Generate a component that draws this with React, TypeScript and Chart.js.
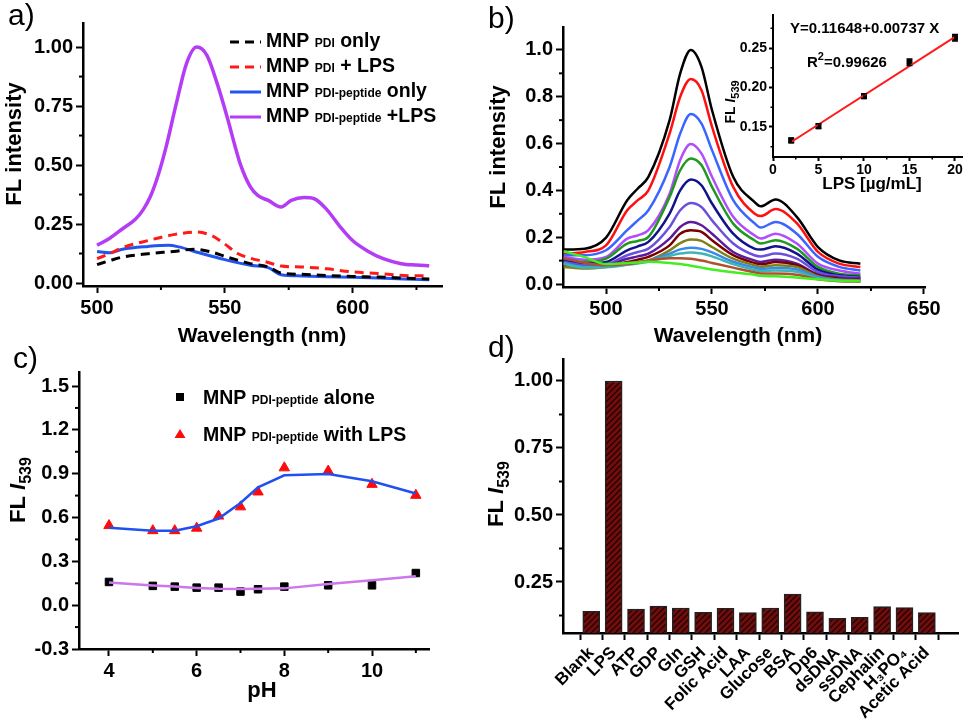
import React, { useEffect, useRef } from "react";
import { Chart, registerables } from "chart.js";
Chart.register(...registerables);

const FONT = '"Liberation Sans", Arial, Helvetica, sans-serif';

// ---------------- Panel a ----------------
const aPurpleWl = [500, 505, 510, 515, 518, 521, 524, 527, 531, 535, 539, 543, 547, 551, 554, 556, 560, 563, 567, 572, 576, 581, 585, 590, 595, 600, 606, 612, 619, 625, 630];
const aPurpleVal = [0.16, 0.19, 0.23, 0.27, 0.31, 0.37, 0.46, 0.576, 0.76, 0.93, 1.0, 0.965, 0.846, 0.7, 0.58, 0.506, 0.407, 0.37, 0.35, 0.322, 0.35, 0.362, 0.357, 0.31, 0.24, 0.18, 0.135, 0.103, 0.082, 0.076, 0.073];
const aRedWl = [500, 505, 510, 520, 530, 539, 545, 550, 555, 560, 566, 572, 580, 590, 600, 610, 620, 630];
const aRedVal = [0.103, 0.125, 0.15, 0.18, 0.205, 0.216, 0.2, 0.165, 0.125, 0.105, 0.09, 0.072, 0.068, 0.06, 0.047, 0.04, 0.032, 0.03];
const aBlackWl = [500, 505, 510, 520, 530, 538, 545, 550, 555, 560, 567, 572, 580, 590, 600, 610, 620, 630];
const aBlackVal = [0.078, 0.095, 0.11, 0.124, 0.134, 0.143, 0.131, 0.113, 0.097, 0.082, 0.068, 0.042, 0.037, 0.032, 0.028, 0.025, 0.021, 0.017];
const aBlueWl = [500, 505, 510, 520, 528, 532, 540, 550, 560, 567, 572, 580, 590, 600, 610, 620, 630];
const aBlueVal = [0.134, 0.128, 0.143, 0.155, 0.16, 0.153, 0.128, 0.099, 0.075, 0.065, 0.035, 0.03, 0.027, 0.024, 0.021, 0.017, 0.014];
const aXTicks = [500, 550, 600];
const aXMinor = [525, 575, 625];
const aYTicks = [0, 0.25, 0.5, 0.75, 1.0];
const aYMinor = [0.125, 0.375, 0.625, 0.875];

// ---------------- Panel b ----------------
const bWl = [480, 490, 500, 510, 515, 520, 530, 535, 540, 545, 550, 560, 570, 573, 580, 590, 600, 610, 620];
const bBlack = [0.147, 0.151, 0.198, 0.358, 0.408, 0.458, 0.7, 0.9, 1.0, 0.929, 0.743, 0.458, 0.351, 0.332, 0.361, 0.287, 0.158, 0.101, 0.087];
const bRed = [0.13, 0.137, 0.165, 0.315, 0.358, 0.4, 0.643, 0.8, 0.876, 0.829, 0.672, 0.415, 0.301, 0.29, 0.32, 0.26, 0.137, 0.087, 0.073];
const bBlue = [0.123, 0.123, 0.144, 0.23, 0.272, 0.315, 0.5, 0.643, 0.726, 0.686, 0.572, 0.358, 0.26, 0.241, 0.265, 0.215, 0.116, 0.073, 0.058];
const bViolet = [0.116, 0.104, 0.116, 0.194, 0.208, 0.23, 0.386, 0.53, 0.598, 0.558, 0.458, 0.287, 0.208, 0.194, 0.215, 0.173, 0.087, 0.058, 0.044];
const bGreen = [0.108, 0.094, 0.108, 0.173, 0.184, 0.201, 0.372, 0.486, 0.536, 0.508, 0.415, 0.258, 0.187, 0.173, 0.187, 0.151, 0.073, 0.044, 0.037];
const bNavy = [0.1, 0.087, 0.094, 0.144, 0.161, 0.18, 0.301, 0.4, 0.446, 0.422, 0.344, 0.215, 0.151, 0.147, 0.161, 0.13, 0.061, 0.037, 0.03];
const bIndigo = [0.094, 0.08, 0.084, 0.123, 0.137, 0.151, 0.244, 0.315, 0.346, 0.329, 0.272, 0.173, 0.123, 0.118, 0.13, 0.108, 0.051, 0.033, 0.027];
const bPurple = [0.087, 0.076, 0.08, 0.108, 0.118, 0.13, 0.194, 0.244, 0.265, 0.251, 0.215, 0.137, 0.101, 0.094, 0.104, 0.087, 0.041, 0.027, 0.023];
const bMaroon = [0.08, 0.073, 0.076, 0.094, 0.104, 0.116, 0.165, 0.215, 0.23, 0.223, 0.187, 0.123, 0.09, 0.084, 0.094, 0.08, 0.037, 0.023, 0.019];
const bOlive = [0.073, 0.066, 0.073, 0.087, 0.094, 0.101, 0.144, 0.175, 0.19, 0.184, 0.158, 0.108, 0.08, 0.073, 0.08, 0.073, 0.033, 0.019, 0.016];
const bSky = [0.09, 0.075, 0.075, 0.085, 0.092, 0.1, 0.13, 0.148, 0.155, 0.15, 0.135, 0.095, 0.07, 0.065, 0.068, 0.062, 0.03, 0.017, 0.014];
const bTeal = [0.085, 0.07, 0.072, 0.082, 0.088, 0.095, 0.12, 0.13, 0.135, 0.13, 0.118, 0.085, 0.06, 0.055, 0.058, 0.052, 0.025, 0.015, 0.012];
const bBrown = [0.11, 0.09, 0.08, 0.085, 0.092, 0.1, 0.11, 0.11, 0.108, 0.1, 0.09, 0.07, 0.05, 0.045, 0.045, 0.04, 0.02, 0.012, 0.01];
const bLime = [0.14, 0.115, 0.085, 0.09, 0.092, 0.095, 0.09, 0.085, 0.078, 0.07, 0.062, 0.05, 0.04, 0.035, 0.033, 0.028, 0.02, 0.014, 0.012];
const bSeries = [bBlack, bRed, bBlue, bViolet, bGreen, bNavy, bIndigo, bPurple, bMaroon, bOlive, bSky, bTeal, bBrown, bLime];
const bColors = ["#000000", "#ff1010", "#3a66ff", "#b24cff", "#1f9a1f", "#12128c", "#6a50dc", "#5c1a9c", "#7a0000", "#808018", "#3a8ae8", "#3fb4b4", "#b05030", "#44ee22"];
const bXTicks = [500, 550, 600, 650];
const bXMinor = [525, 575, 625];
const bYTicks = [0, 0.2, 0.4, 0.6, 0.8, 1.0];
const bYMinor = [0.1, 0.3, 0.5, 0.7, 0.9];

// ---------------- Inset ----------------
const insetLps = [2, 5, 10, 15, 20];
const insetI539 = [0.133, 0.151, 0.189, 0.232, 0.263];
const insetErr = [0.003, 0.003, 0.003, 0.004, 0.004];
const insetFitX = [2, 20];
const insetFitY = [0.131, 0.264];
const inXTicks = [0, 5, 10, 15, 20];
const inXMinor = [2.5, 7.5, 12.5, 17.5];
const inYTicks = [0.15, 0.2, 0.25];
const inYMinor = [0.125, 0.175, 0.225, 0.275];

// ---------------- Panel c ----------------
const cPh = [4, 5, 5.5, 6, 6.5, 7, 7.4, 8, 9, 10, 11];
const cWithLps = [0.545, 0.51, 0.51, 0.527, 0.61, 0.673, 0.775, 0.94, 0.918, 0.827, 0.752];
const cWithLpsFit = [0.53, 0.51, 0.51, 0.54, 0.593, 0.7, 0.807, 0.889, 0.898, 0.848, 0.764];
const cAlone = [0.159, 0.132, 0.127, 0.12, 0.12, 0.093, 0.109, 0.127, 0.136, 0.136, 0.22];
const cAloneFit = [0.155, 0.135, 0.127, 0.118, 0.112, 0.11, 0.112, 0.115, 0.145, 0.17, 0.198];
const cXTicks = [4, 6, 8, 10];
const cXMinor = [5, 7, 9, 11];
const cYTicks = [-0.3, 0, 0.3, 0.6, 0.9, 1.2, 1.5];
const cYMinor = [-0.15, 0.15, 0.45, 0.75, 1.05, 1.35];

// ---------------- Panel d ----------------
const dLabels = ["Blank", "LPS", "ATP", "GDP", "Gln", "GSH", "Folic Acid", "LAA", "Glucose", "BSA", "Dp6", "dsDNA", "ssDNA", "Cephalin", "H\u2083PO\u2084", "Acetic Acid"];
const dValues = [0.141, 1.0, 0.149, 0.16, 0.153, 0.137, 0.152, 0.136, 0.153, 0.205, 0.139, 0.114, 0.118, 0.158, 0.155, 0.136];
const dYTicks = [0.25, 0.5, 0.75, 1.0];
const dYMinor = [0.125, 0.375, 0.625, 0.875];

type Seg = { t: string; size: number; italic?: boolean; dy?: number };

function rich(ctx: CanvasRenderingContext2D, segs: Seg[], x: number, y: number, align: "left" | "center", rot = 0) {
  ctx.save();
  ctx.translate(x, y);
  if (rot) ctx.rotate(rot);
  ctx.textBaseline = "alphabetic";
  ctx.textAlign = "left";
  ctx.fillStyle = "#000";
  const f = (s: Seg) => `${s.italic ? "italic " : ""}bold ${s.size}px ${FONT}`;
  let w = 0;
  for (const s of segs) {
    ctx.font = f(s);
    w += ctx.measureText(s.t).width;
  }
  let cx = align === "center" ? -w / 2 : 0;
  for (const s of segs) {
    ctx.font = f(s);
    ctx.fillText(s.t, cx, s.dy || 0);
    cx += ctx.measureText(s.t).width;
  }
  ctx.restore();
}

function letter(ctx: CanvasRenderingContext2D, t: string, x: number, y: number) {
  ctx.save();
  ctx.font = `30px ${FONT}`;
  ctx.fillStyle = "#000";
  ctx.textBaseline = "alphabetic";
  ctx.textAlign = "left";
  ctx.fillText(t, x, y);
  ctx.restore();
}

function minor(chart: any, axis: "x" | "y", vals: number[], len = 4, lw = 2) {
  const ctx = chart.ctx as CanvasRenderingContext2D;
  const s = chart.scales[axis];
  const a = chart.chartArea;
  ctx.save();
  ctx.strokeStyle = "#000";
  ctx.lineWidth = lw;
  for (const v of vals) {
    const p = s.getPixelForValue(v);
    ctx.beginPath();
    if (axis === "x") {
      ctx.moveTo(p, a.bottom);
      ctx.lineTo(p, a.bottom + len);
    } else {
      ctx.moveTo(a.left, p);
      ctx.lineTo(a.left - len, p);
    }
    ctx.stroke();
  }
  ctx.restore();
}

function axis(o: {
  min: number; max: number; ticks: number[]; fmt: (v: number) => string; fit: number;
  size?: number; tickLen?: number; border?: number; rot?: number; pad?: number;
}) {
  return {
    type: "linear",
    min: o.min,
    max: o.max,
    border: { display: true, color: "#000", width: o.border ?? 2.5 },
    grid: { display: true, drawOnChartArea: false, drawTicks: true, tickLength: o.tickLen ?? 7, tickWidth: 2, tickColor: "#000", color: "#000" },
    ticks: {
      autoSkip: false,
      color: "#000",
      padding: o.pad ?? 3,
      minRotation: o.rot ?? 0,
      maxRotation: o.rot ?? 0,
      font: { family: FONT, size: o.size ?? 19, weight: "bold" },
      callback: (v: any) => o.fmt(Number(v)),
    },
    afterBuildTicks: (s: any) => {
      s.ticks = o.ticks.map((v) => ({ value: v }));
    },
    afterFit: (s: any) => {
      if (s.isHorizontal()) s.height = o.fit;
      else s.width = o.fit;
    },
  };
}

function base(pad: any) {
  return {
    responsive: false,
    animation: false,
    devicePixelRatio: 1,
    events: [],
    layout: { padding: pad },
    plugins: { legend: { display: false }, tooltip: { enabled: false }, title: { display: false } },
  };
}

const pts = (xs: number[], ys: number[]) => xs.map((x, i) => ({ x, y: ys[i] }));

export default function App() {
  const refA = useRef<HTMLCanvasElement>(null);
  const refB = useRef<HTMLCanvasElement>(null);
  const refI = useRef<HTMLCanvasElement>(null);
  const refC = useRef<HTMLCanvasElement>(null);
  const refD = useRef<HTMLCanvasElement>(null);

  useEffect(() => {
    const charts: Chart[] = [];

    // ---------- A ----------
    const aLegend = [
      { color: "#000000", dash: [9, 6], sub: "PDI", tail: " only" },
      { color: "#ff1a1a", dash: [9, 6], sub: "PDI", tail: " + LPS" },
      { color: "#2255ee", dash: [], sub: "PDI-peptide", tail: " only" },
      { color: "#b43cf5", dash: [], sub: "PDI-peptide", tail: " +LPS" },
    ];
    charts.push(
      new Chart(refA.current!, {
        type: "line",
        data: {
          datasets: [
            { data: pts(aBlackWl, aBlackVal), borderColor: "#000000", borderWidth: 3, borderDash: [9, 6], pointRadius: 0, cubicInterpolationMode: "monotone" },
            { data: pts(aRedWl, aRedVal), borderColor: "#ff1a1a", borderWidth: 3, borderDash: [9, 6], pointRadius: 0, cubicInterpolationMode: "monotone" },
            { data: pts(aBlueWl, aBlueVal), borderColor: "#2255ee", borderWidth: 3, pointRadius: 0, cubicInterpolationMode: "monotone" },
            { data: pts(aPurpleWl, aPurpleVal), borderColor: "#b43cf5", borderWidth: 3.5, pointRadius: 0, cubicInterpolationMode: "monotone" },
          ] as any,
        },
        options: {
          ...base({ left: 0, top: 23, right: 38, bottom: 0 }),
          scales: {
            x: axis({ min: 494.5, max: 635, ticks: aXTicks, fmt: (v) => String(v), fit: 64, size: 20 }),
            y: axis({ min: -0.0127, max: 1.102, ticks: aYTicks, fmt: (v) => v.toFixed(2), fit: 83, size: 20 }),
          },
        } as any,
        plugins: [
          {
            id: "decoA",
            afterDraw(chart: any) {
              const ctx = chart.ctx;
              minor(chart, "x", aXMinor);
              minor(chart, "y", aYMinor);
              letter(ctx, "a)", 8, 25);
              rich(ctx, [{ t: "FL intensity", size: 22 }], 21, 144, "center", -Math.PI / 2);
              rich(ctx, [{ t: "Wavelength (nm)", size: 21 }], 262, 342, "center");
              aLegend.forEach((r, i) => {
                const ly = 42 + 25 * i;
                ctx.save();
                ctx.strokeStyle = r.color;
                ctx.lineWidth = 3;
                ctx.setLineDash(r.dash);
                ctx.beginPath();
                ctx.moveTo(230, ly);
                ctx.lineTo(261, ly);
                ctx.stroke();
                ctx.restore();
                rich(ctx, [{ t: "MNP ", size: 19.5 }, { t: r.sub, size: 12 }, { t: r.tail, size: 19.5 }], 266, 47 + 25 * i, "left");
              });
            },
          },
        ],
      })
    );

    // ---------- B ----------
    charts.push(
      new Chart(refB.current!, {
        type: "line",
        data: {
          datasets: bSeries
            .map((s, i) => ({ data: pts(bWl, s), borderColor: bColors[i], borderWidth: 2.5, pointRadius: 0, cubicInterpolationMode: "monotone" }))
            .reverse() as any,
        },
        options: {
          ...base({ left: 0, top: 27, right: 44, bottom: 0 }),
          scales: {
            x: axis({ min: 479.7, max: 650.5, ticks: bXTicks, fmt: (v) => String(v), fit: 63, size: 20 }),
            y: axis({ min: -0.0128, max: 1.098, ticks: bYTicks, fmt: (v) => v.toFixed(1), fit: 83, size: 20 }),
          },
        } as any,
        plugins: [
          {
            id: "decoB",
            afterDraw(chart: any) {
              const ctx = chart.ctx;
              minor(chart, "x", bXMinor);
              minor(chart, "y", bYMinor);
              letter(ctx, "b)", 8, 28);
              rich(ctx, [{ t: "FL intensity", size: 22 }], 25, 147, "center", -Math.PI / 2);
              rich(ctx, [{ t: "Wavelength (nm)", size: 21 }], 258, 342, "center");
            },
          },
        ],
      })
    );

    // ---------- Inset ----------
    charts.push(
      new Chart(refI.current!, {
        type: "scatter",
        data: {
          datasets: [
            { type: "line", data: pts(insetFitX, insetFitY), borderColor: "#ff1a1a", borderWidth: 2, pointRadius: 0 },
            { data: pts(insetLps, insetI539), backgroundColor: "#000", borderColor: "#000", pointStyle: "rect", pointRadius: 3.5 },
          ] as any,
        },
        options: {
          ...base({ left: 0, top: 15, right: 7, bottom: 0 }),
          scales: {
            x: axis({ min: 0, max: 20.77, ticks: inXTicks, fmt: (v) => String(v), fit: 43, size: 14, tickLen: 4, border: 2, pad: 1 }),
            y: axis({ min: 0.112, max: 0.2918, ticks: inYTicks, fmt: (v) => v.toFixed(2), fit: 73, size: 14, tickLen: 4, border: 2, pad: 2 }),
          },
        } as any,
        plugins: [
          {
            id: "decoI",
            afterDatasetsDraw(chart: any) {
              const ctx = chart.ctx as CanvasRenderingContext2D;
              const xs = chart.scales.x;
              const ys = chart.scales.y;
              ctx.save();
              ctx.strokeStyle = "#000";
              ctx.lineWidth = 1.5;
              insetLps.forEach((xv, i) => {
                const px = xs.getPixelForValue(xv);
                const y1 = ys.getPixelForValue(insetI539[i] - insetErr[i]);
                const y2 = ys.getPixelForValue(insetI539[i] + insetErr[i]);
                ctx.beginPath();
                ctx.moveTo(px, y1);
                ctx.lineTo(px, y2);
                ctx.moveTo(px - 3, y1);
                ctx.lineTo(px + 3, y1);
                ctx.moveTo(px - 3, y2);
                ctx.lineTo(px + 3, y2);
                ctx.stroke();
              });
              ctx.restore();
            },
            afterDraw(chart: any) {
              const ctx = chart.ctx;
              minor(chart, "x", inXMinor, 2.5, 1.5);
              minor(chart, "y", inYMinor, 2.5, 1.5);
              rich(ctx, [{ t: "Y=0.11648+0.00737 X", size: 15 }], 90, 33, "left");
              rich(ctx, [{ t: "R", size: 15 }, { t: "2", size: 11, dy: -7 }, { t: "=0.99626", size: 15 }], 107, 67, "left");
              rich(ctx, [{ t: "LPS [\u00b5g/mL]", size: 17 }], 172, 189, "center");
              rich(ctx, [{ t: "FL ", size: 14 }, { t: "I", size: 14, italic: true }, { t: "539", size: 11, dy: 4 }], 35, 102, "center", -Math.PI / 2);
            },
          },
        ],
      })
    );

    // ---------- C ----------
    charts.push(
      new Chart(refC.current!, {
        type: "scatter",
        data: {
          datasets: [
            { type: "line", data: pts(cPh, cWithLpsFit), borderColor: "#2050f0", borderWidth: 2.5, pointRadius: 0 },
            { type: "line", data: pts(cPh, cAloneFit), borderColor: "#cc77ee", borderWidth: 2.5, pointRadius: 0 },
            { data: pts(cPh, cWithLps), backgroundColor: "#ff0a0a", borderColor: "#ff0a0a", pointStyle: "triangle", pointRadius: 6 },
            { data: pts(cPh, cAlone), backgroundColor: "#000", borderColor: "#000", pointStyle: "rect", pointRadius: 5.3 },
          ] as any,
        },
        options: {
          ...base({ left: 0, top: 42, right: 51, bottom: 0 }),
          scales: {
            x: axis({ min: 3.316, max: 11.3, ticks: cXTicks, fmt: (v) => String(v), fit: 73, size: 20 }),
            y: axis({ min: -0.3, max: 1.596, ticks: cYTicks, fmt: (v) => v.toFixed(1), fit: 79, size: 20 }),
          },
        } as any,
        plugins: [
          {
            id: "decoC",
            afterDraw(chart: any) {
              const ctx = chart.ctx as CanvasRenderingContext2D;
              minor(chart, "x", cXMinor);
              minor(chart, "y", cYMinor);
              letter(ctx, "c)", 13, 38);
              rich(ctx, [{ t: "FL ", size: 22 }, { t: "I", size: 22, italic: true }, { t: "539", size: 16, dy: 6 }], 25, 160, "center", -Math.PI / 2);
              rich(ctx, [{ t: "pH", size: 22 }], 262, 367, "center");
              ctx.save();
              ctx.fillStyle = "#000";
              ctx.fillRect(176, 63, 8, 8);
              ctx.fillStyle = "#ff0a0a";
              ctx.beginPath();
              ctx.moveTo(180, 99);
              ctx.lineTo(185.5, 108);
              ctx.lineTo(174.5, 108);
              ctx.closePath();
              ctx.fill();
              ctx.restore();
              rich(ctx, [{ t: "MNP ", size: 19.5 }, { t: "PDI-peptide", size: 12 }, { t: " alone", size: 19.5 }], 203, 74, "left");
              rich(ctx, [{ t: "MNP ", size: 19.5 }, { t: "PDI-peptide", size: 12 }, { t: " with LPS", size: 19.5 }], 203, 111, "left");
            },
          },
        ],
      })
    );

    // ---------- D ----------
    const tile = document.createElement("canvas");
    tile.width = 6;
    tile.height = 6;
    const tc = tile.getContext("2d")!;
    tc.fillStyle = "#700d0d";
    tc.fillRect(0, 0, 6, 6);
    tc.strokeStyle = "#260000";
    tc.lineWidth = 1.3;
    tc.beginPath();
    tc.moveTo(-1, 7);
    tc.lineTo(7, -1);
    tc.moveTo(-4, 4);
    tc.lineTo(4, -4);
    tc.moveTo(2, 10);
    tc.lineTo(10, 2);
    tc.stroke();
    const dctx = refD.current!.getContext("2d")!;
    const hatch = dctx.createPattern(tile, "repeat");

    charts.push(
      new Chart(refD.current!, {
        type: "bar",
        data: {
          datasets: [
            {
              data: dValues.map((v, i) => ({ x: i, y: v })),
              backgroundColor: hatch,
              borderColor: "#222",
              borderWidth: 1.5,
              barThickness: 17,
            },
          ] as any,
        },
        options: {
          ...base({ left: 0, top: 29, right: 11, bottom: 0 }),
          scales: {
            x: axis({ min: -0.712, max: 15.84, ticks: dLabels.map((_, i) => i), fmt: (v) => dLabels[Math.round(v)] ?? "", fit: 89, size: 17, rot: 45 }),
            y: axis({ min: 0.0597, max: 1.082, ticks: dYTicks, fmt: (v) => v.toFixed(2), fit: 83, size: 20 }),
          },
        } as any,
        plugins: [
          {
            id: "decoD",
            afterDraw(chart: any) {
              const ctx = chart.ctx;
              minor(chart, "y", dYMinor);
              letter(ctx, "d)", 8, 27);
              rich(ctx, [{ t: "FL ", size: 22 }, { t: "I", size: 22, italic: true }, { t: "539", size: 16, dy: 6 }], 23, 164, "center", -Math.PI / 2);
            },
          },
        ],
      })
    );

    return () => charts.forEach((c) => c.destroy());
  }, []);

  const abs = (l: number, t: number): React.CSSProperties => ({ position: "absolute", left: l, top: t });
  return (
    <div style={{ position: "fixed", left: 0, top: 0, width: 969, height: 722, background: "#fff", overflow: "hidden" }}>
      <canvas ref={refC} width={480} height={392} style={abs(0, 330)} />
      <canvas ref={refD} width={489} height={392} style={abs(480, 330)} />
      <canvas ref={refA} width={480} height={350} style={abs(0, 0)} />
      <canvas ref={refB} width={489} height={350} style={abs(480, 0)} />
      <canvas ref={refI} width={269} height={200} style={abs(700, 0)} />
    </div>
  );
}
